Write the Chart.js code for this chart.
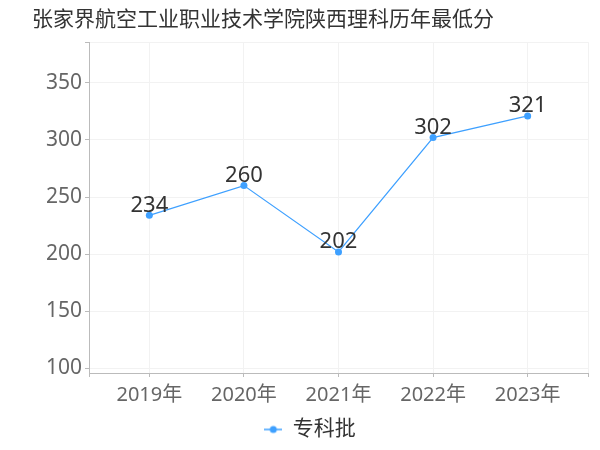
<!DOCTYPE html>
<html>
<head>
<meta charset="utf-8">
<script src="https://cdn.jsdelivr.net/npm/chart.js@4/dist/chart.umd.min.js"></script>
<style>
  html, body { margin: 0; padding: 0; background: #fff; }
  #wrap { width: 600px; height: 450px; }
</style>
</head>
<body>
<div id="wrap"><canvas id="c" width="600" height="450"></canvas></div>
<script>
const titleText = '张家界航空工业职业技术学院陕西理科历年最低分';
const years = ['2019年', '2020年', '2021年', '2022年', '2023年'];
const seriesName = '专科批';
const scores = [234, 260, 202, 302, 321];
const yTicks = [100, 150, 200, 250, 300, 350];

const FONT = "'Noto Sans', 'Noto Sans CJK SC', sans-serif";
const LINE = '#3ea0ff';

// legend marker: short line with a dot
const marker = document.createElement('canvas');
marker.width = 18; marker.height = 10;
(function () {
  const g = marker.getContext('2d');
  g.strokeStyle = LINE; g.lineWidth = 1.5;
  g.beginPath(); g.moveTo(0, 5); g.lineTo(18, 5); g.stroke();
  g.fillStyle = LINE;
  g.beginPath(); g.arc(9, 5, 3.5, 0, Math.PI * 2); g.fill();
})();

const valueLabels = {
  id: 'valueLabels',
  afterDatasetsDraw(chart) {
    const ctx = chart.ctx;
    const meta = chart.getDatasetMeta(0);
    ctx.save();
    ctx.font = '22px ' + FONT;
    ctx.fillStyle = '#333';
    ctx.textAlign = 'center';
    ctx.textBaseline = 'bottom';
    meta.data.forEach((pt, i) => {
      ctx.fillText(String(scores[i]), pt.x, pt.y + 1);
    });
    ctx.restore();
  }
};

new Chart(document.getElementById('c'), {
  type: 'line',
  data: {
    datasets: [{
      label: seriesName,
      data: scores.map((v, i) => ({ x: i, y: v })),
      borderColor: LINE,
      backgroundColor: LINE,
      borderWidth: 1.2,
      pointRadius: 3.5,
      pointHoverRadius: 3.5,
      pointBackgroundColor: LINE,
      pointBorderWidth: 0,
      pointStyle: 'circle',
      tension: 0
    }]
  },
  options: {
    responsive: false,
    animation: false,
    layout: { padding: { left: 32, right: 12, top: 0, bottom: 0 } },
    plugins: {
      title: {
        display: true,
        text: titleText,
        align: 'start',
        color: '#333',
        font: { family: FONT, size: 21, weight: 'normal', lineHeight: 1.2 },
        padding: { top: 7, bottom: 10 }
      },
      legend: {
        position: 'bottom',
        labels: {
          color: '#333',
          font: { family: FONT, size: 21 },
          usePointStyle: true,
          boxWidth: 18,
          boxHeight: 10,
          pointStyleWidth: 18,
          padding: 3,
          generateLabels(chart) {
            return [{
              text: seriesName,
              pointStyle: marker,
              fillStyle: LINE,
              strokeStyle: LINE,
              lineWidth: 0,
              fontColor: '#333',
              datasetIndex: 0
            }];
          }
        }
      },
      tooltip: { enabled: false }
    },
    scales: {
      x: {
        type: 'linear',
        min: -0.638,
        max: 4.638,
        afterBuildTicks(scale) {
          scale.ticks = [-0.638, 0, 1, 2, 3, 4, 4.638].map(v => ({ value: v }));
        },
        afterFit(scale) { scale.height = 43; },
        ticks: {
          color: '#666',
          font: { family: FONT, size: 20 },
          padding: 6,
          maxRotation: 0,
          autoSkip: false,
          callback(v) { return Number.isInteger(v) ? years[v] : ''; }
        },
        grid: {
          color: '#f2f2f2',
          tickColor: '#bbb',
          tickLength: 4,
          drawTicks: true
        },
        border: { color: '#bbb', width: 1 }
      },
      y: {
        min: 96,
        max: 385.5,
        afterBuildTicks(scale) {
          scale.ticks = yTicks.map(v => ({ value: v })).concat([{ value: 385.5 }]);
        },
        afterFit(scale) { scale.width = 57; },
        ticks: {
          color: '#666',
          font: { family: FONT, size: 21 },
          padding: 3,
          callback(v) { return yTicks.includes(v) ? String(v) : ''; }
        },
        grid: {
          color: '#f2f2f2',
          tickColor: '#bbb',
          tickLength: 4
        },
        border: { color: '#bbb', width: 1 }
      }
    }
  },
  plugins: [valueLabels]
});
</script>
</body>
</html>
